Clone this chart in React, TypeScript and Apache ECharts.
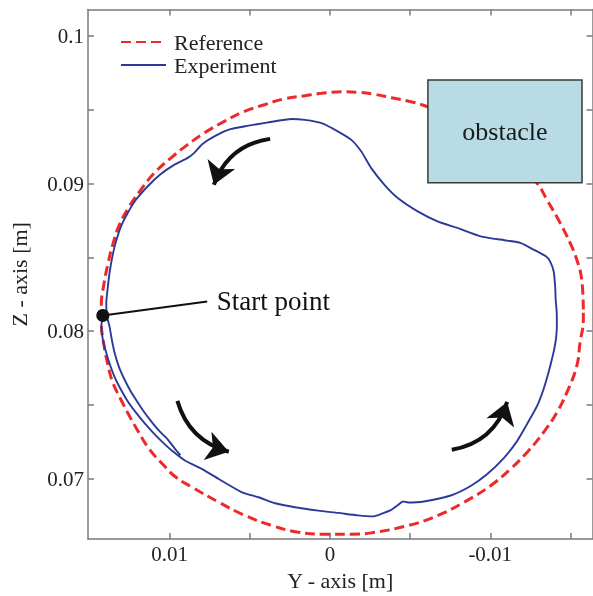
import React, { useEffect, useRef } from 'react';
import * as echarts from 'echarts';

const FONT = '"Liberation Serif", "Times New Roman", serif';

// Axis ranges and ticks
const yAxisRange = [-0.01638, 0.0151]; // horizontal "Y - axis [m]" (inverted)
const zAxisRange = [0.0659, 0.1018];   // vertical "Z - axis [m]"
const yTickValues = [-0.015, -0.01, -0.005, 0, 0.005, 0.01];
const yTickLabels = [-0.01, 0, 0.01];
const zTickValues = [0.07, 0.075, 0.08, 0.085, 0.09, 0.095, 0.1];
const zTickLabels = [0.07, 0.08, 0.09, 0.1];

// Reference trajectory (red dashed circle)
const refY = [
  -0.015807, -0.015707, -0.015397, -0.014981, -0.014361, -0.013536, -0.012916, -0.011383, -0.0082817,
  -0.0057817, -0.0048511, -0.0038152, -0.0027792, -0.0017494, -0.0007134, 0.0005273, 0.0015633,
  0.0029032, 0.0041439, 0.0053846, 0.0066253, 0.007866, 0.008902, 0.009938, 0.010968, 0.011799,
  0.012519, 0.013139, 0.013555, 0.013865, 0.014113, 0.014268, 0.014268, 0.014113, 0.013865, 0.013555,
  0.013058, 0.012519, 0.011942, 0.011278, 0.010453, 0.0096278, 0.0085918, 0.0069355, 0.0052854,
  0.003629, 0.0019727, 0.00032258, -0.0013338, -0.0025745, -0.0048511, -0.0067122, -0.0083623,
  -0.010019, -0.011259, -0.012295, -0.013325, -0.014156, -0.014777, -0.015397, -0.015602, -0.015807,
  -0.015807,
];
const refZ = [
  0.081467, 0.083496, 0.084848, 0.085977, 0.087329, 0.088905, 0.090034, 0.091812, 0.094178,
  0.095328, 0.095598, 0.095821, 0.096051, 0.096187, 0.096227, 0.096119, 0.095957,
  0.095734, 0.095328, 0.094875, 0.094199, 0.093414, 0.092623, 0.091724, 0.09071, 0.089581,
  0.088452, 0.087214, 0.085862, 0.08451, 0.083158, 0.081805, 0.080588, 0.079101, 0.077749, 0.076511,
  0.075382, 0.074253, 0.073151, 0.072001, 0.070987, 0.070108, 0.069412, 0.068398, 0.067492,
  0.066815, 0.066369, 0.066234, 0.066234, 0.066322, 0.066815, 0.067492, 0.068398,
  0.06952, 0.070649, 0.071778, 0.073131, 0.074483, 0.075835, 0.077634, 0.079216, 0.080791,
  0.081467,
];

// Experiment trajectory (blue)
const expY = [
  0.014175, 0.014268, 0.014175, 0.013989, 0.013741, 0.013431, 0.013058, 0.012624, 0.012128, 0.01157,
  0.011011, 0.010453, 0.0098325, 0.0090261, 0.0079715, 0.0069355, 0.0054901, 0.0044541, 0.0034243,
  0.0021836, 0.000732, -0.0005087, -0.0017494, -0.0026985, -0.0031948, -0.0038152, -0.0042494,
  -0.0045596, -0.0048698, -0.0058623, -0.0075373, -0.0087779, -0.0098139, -0.010844, -0.011675,
  -0.012295, -0.012916, -0.013325, -0.013635, -0.013846, -0.013989, -0.014113, -0.014156, -0.014144,
  -0.014082, -0.014051, -0.013958, -0.013741, -0.013493, -0.012705, -0.01188, -0.011055, -0.0093983,
  -0.007953, -0.0067122, -0.0054715, -0.0042308, -0.0033995, -0.0025745, -0.0019541, -0.0013338,
  -0.0005087, 0.0005273, 0.0015633, 0.0023883, 0.0039392, 0.0051799, 0.0062159, 0.007041, 0.0079715,
  0.0084864, 0.008902, 0.0097271, 0.010558, 0.011383, 0.012109, 0.012624, 0.01304, 0.01335, 0.013555,
  0.013741, 0.013865, 0.013958, 0.013927, 0.013759, 0.013617, 0.013449, 0.013182, 0.012829, 0.012438,
  0.012004, 0.011632, 0.011179, 0.010701, 0.010143, 0.0097085, 0.0093363,
];
const expZ = [
  0.081062, 0.080318, 0.079439, 0.078627, 0.077749, 0.07687, 0.076058, 0.075247, 0.074503, 0.073759,
  0.073083, 0.072475, 0.071866, 0.07121, 0.070649, 0.069973, 0.069074, 0.068736, 0.06833,
  0.06806, 0.06783, 0.067674, 0.067505, 0.067438, 0.067607, 0.067877, 0.068215,
  0.068452, 0.068384, 0.068452, 0.068857, 0.0695, 0.070311, 0.071393, 0.072542,
  0.073692, 0.074909, 0.076058, 0.077187, 0.078087, 0.078763, 0.079574, 0.080453, 0.081332,
  0.082143, 0.083022, 0.084037, 0.084713, 0.085051, 0.085524, 0.085977, 0.086133, 0.086423,
  0.086991, 0.087437, 0.088114, 0.08902, 0.089919, 0.091048, 0.09217, 0.092961,
  0.093523, 0.094091, 0.094314, 0.094381, 0.094131, 0.093908, 0.093685, 0.0933, 0.092671,
  0.092062, 0.091724, 0.091271, 0.090642, 0.089804, 0.088905, 0.088005, 0.087099, 0.086085, 0.085186,
  0.084057, 0.082955, 0.081941, 0.081062, 0.080318, 0.079439, 0.07856, 0.077613, 0.076734, 0.075923,
  0.075179, 0.074571, 0.073915, 0.073286, 0.072678, 0.072069, 0.071596,
];

// Obstacle box [Y range], [Z range]
const obstacleY = [-0.00611, -0.015726];
const obstacleZ = [0.090054, 0.097018];

// Start point and its label anchor
const startPoint = [0.014175, 0.081062];
const startLabelAnchor = [0.0076613, 0.082008];

// Direction arrows: tails and tips as [Y, Z]
const arrowTails = [[0.0037345, 0.093029], [0.0095223, 0.075267], [-0.0075993, 0.071954]];
const arrowTips = [[0.0072457, 0.089919], [0.0063151, 0.071819], [-0.011055, 0.0752]];
const arrowCurve = [-0.3, -0.28, -0.3];

const fmt = (v: number) => String(Number(v.toFixed(4)));

export default function App() {
  const ref = useRef<HTMLDivElement>(null);
  useEffect(() => {
    if (!ref.current) return;
    const chart = echarts.init(ref.current, null, { renderer: 'svg' });
    const refData = refY.map((y, i) => [y, refZ[i]]);
    const expData = expY.map((y, i) => [y, expZ[i]]);
    const axisLine = { show: true, onZero: false, lineStyle: { color: '#7a7a7a', width: 1.5 } };
    const axisTickX = { show: true, inside: true, length: 6, customValues: yTickValues, lineStyle: { color: '#7a7a7a', width: 1.5 } };
    const axisTickZ = { show: true, inside: true, length: 6, customValues: zTickValues, lineStyle: { color: '#7a7a7a', width: 1.5 } };
    const option: any = {
      animation: false,
      grid: { left: 85, right: 0.5, top: 9.5, bottom: 56.5, containLabel: false },
      legend: {
        data: ['Reference', 'Experiment'],
        orient: 'vertical',
        left: 115,
        top: 26,
        itemWidth: 45,
        itemHeight: 14,
        itemGap: 1,
        itemStyle: { opacity: 0 },
        textStyle: { fontFamily: FONT, fontSize: 22, color: '#222', lineHeight: 22, padding: [0, 0, 0, 3] },
      },
      xAxis: [
        {
          type: 'value', position: 'bottom', inverse: true,
          min: yAxisRange[0], max: yAxisRange[1],
          name: 'Y - axis [m]', nameLocation: 'middle', nameGap: 25,
          nameTextStyle: { fontFamily: FONT, fontSize: 22, color: '#222' },
          axisLine, axisTick: axisTickX, splitLine: { show: false },
          axisLabel: { customValues: yTickLabels, formatter: fmt, fontFamily: FONT, fontSize: 21, color: '#222', margin: 4 },
        },
        {
          type: 'value', position: 'top', inverse: true,
          min: yAxisRange[0], max: yAxisRange[1],
          axisLine, axisTick: axisTickX, splitLine: { show: false }, axisLabel: { show: false },
        },
      ],
      yAxis: [
        {
          type: 'value', position: 'left',
          min: zAxisRange[0], max: zAxisRange[1],
          name: 'Z - axis [m]', nameLocation: 'middle', nameGap: 58,
          nameTextStyle: { fontFamily: FONT, fontSize: 22, color: '#222' },
          axisLine, axisTick: axisTickZ, splitLine: { show: false },
          axisLabel: { customValues: zTickLabels, formatter: fmt, fontFamily: FONT, fontSize: 21, color: '#222', margin: 4 },
        },
        {
          type: 'value', position: 'right',
          min: zAxisRange[0], max: zAxisRange[1],
          axisLine, axisTick: axisTickZ, splitLine: { show: false }, axisLabel: { show: false },
        },
      ],
      series: [
        {
          name: 'Reference', type: 'line', data: refData, symbol: 'none', smooth: 0.45, z: 2,
          lineStyle: { color: '#ec2a2a', width: 3, type: [10, 5] },
          itemStyle: { color: '#ec2a2a' },
        },
        {
          name: 'Experiment', type: 'line', data: expData, symbol: 'none', smooth: 0.2, z: 3,
          lineStyle: { color: '#2b3a98', width: 1.9 },
          itemStyle: { color: '#2b3a98' },
        },
        {
          name: 'obstacle', type: 'custom', z: 5,
          data: [[obstacleY[0], obstacleZ[0], obstacleY[1], obstacleZ[1]]],
          encode: { x: [0, 2], y: [1, 3] },
          renderItem: (params: any, api: any) => {
            const p1 = api.coord([api.value(0), api.value(1)]);
            const p2 = api.coord([api.value(2), api.value(3)]);
            const x = Math.min(p1[0], p2[0]);
            const y = Math.min(p1[1], p2[1]);
            const w = Math.abs(p1[0] - p2[0]);
            const h = Math.abs(p1[1] - p2[1]);
            return {
              type: 'group',
              children: [
                { type: 'rect', shape: { x, y, width: w, height: h }, style: { fill: '#b9dbe5', stroke: '#3a3a3a', lineWidth: 1.5 } },
                { type: 'text', x: x + w / 2, y: y + h / 2, style: { text: 'obstacle', fill: '#1a1a1a', fontSize: 26, fontFamily: FONT, align: 'center', verticalAlign: 'middle' } },
              ],
            };
          },
        },
        {
          name: 'startLine', type: 'line', data: [startPoint, startLabelAnchor], symbol: 'none', z: 6,
          lineStyle: { color: '#111', width: 2 },
        },
        {
          name: 'startDot', type: 'scatter', data: [startPoint], symbolSize: 13, z: 7,
          itemStyle: { color: '#111', opacity: 1 },
        },
        {
          name: 'startLabel', type: 'scatter', data: [startLabelAnchor], symbolSize: 1, z: 7,
          itemStyle: { color: 'rgba(0,0,0,0)' },
          label: { show: true, formatter: 'Start point', position: 'right', distance: 9, fontFamily: FONT, fontSize: 27, color: '#111', opacity: 1 },
        },
        {
          name: 'arrows', type: 'lines', coordinateSystem: 'cartesian2d', z: 8,
          symbol: ['none', 'arrow'], symbolSize: 22,
          data: arrowTails.map((t, i) => ({ coords: [t, arrowTips[i]], lineStyle: { curveness: arrowCurve[i] } })),
          lineStyle: { color: '#111', width: 4, opacity: 1 },
        },
      ],
    };
    chart.setOption(option);
    return () => chart.dispose();
  }, []);
  return <div ref={ref} style={{ position: 'fixed', left: 0, top: 0, width: 593, height: 596 }} />;
}
